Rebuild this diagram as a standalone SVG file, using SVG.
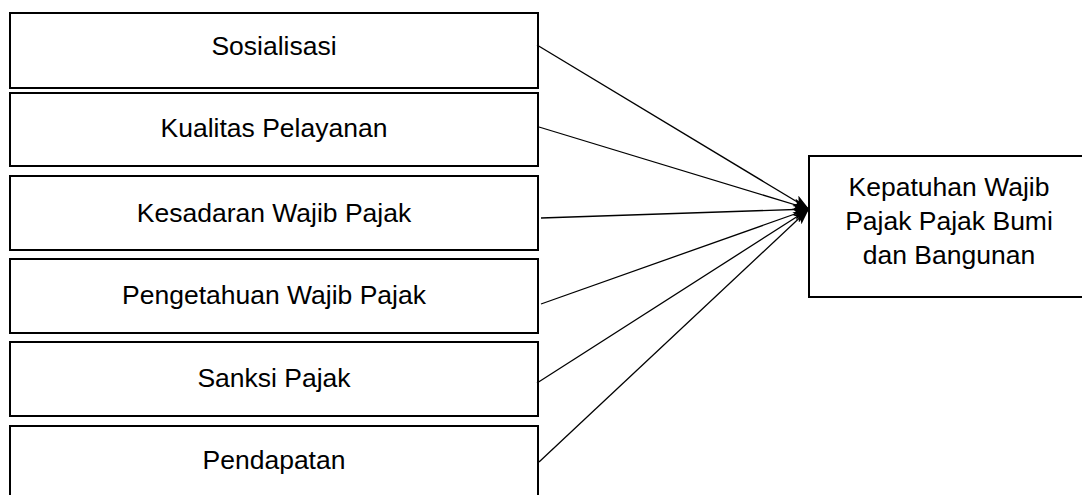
<svg xmlns="http://www.w3.org/2000/svg" width="1082" height="495" viewBox="0 0 1082 495">
<style>
.box{fill:#fff;stroke:#000;stroke-width:2}
.lbl{font-family:"Liberation Sans",Arial,sans-serif;font-size:26.5px;fill:#000;text-anchor:middle}
.con{stroke:#000;stroke-width:1.3;fill:none;marker-end:url(#ah)}
</style>
<defs>
<marker id="ah" markerUnits="userSpaceOnUse" viewBox="0 0 16 12" refX="16" refY="6" markerWidth="16" markerHeight="12" orient="auto">
<path d="M0,0 L16,6 L0,12 L4,6 z" fill="#000"/>
</marker>
</defs>
<rect width="1082" height="495" fill="#fff"/>
<g id="n1"><rect class="box" x="10" y="13" width="528" height="75"/><text class="lbl" x="274" y="55">Sosialisasi</text></g>
<g id="n2"><rect class="box" x="10" y="93" width="528" height="73"/><text class="lbl" x="274" y="137">Kualitas Pelayanan</text></g>
<g id="n3"><rect class="box" x="10" y="176" width="528" height="74"/><text class="lbl" x="274" y="222">Kesadaran Wajib Pajak</text></g>
<g id="n4"><rect class="box" x="10" y="259" width="528" height="74"/><text class="lbl" x="274" y="304">Pengetahuan Wajib Pajak</text></g>
<g id="n5"><rect class="box" x="10" y="342" width="528" height="74"/><text class="lbl" x="274" y="387">Sanksi Pajak</text></g>
<g id="n6"><rect class="box" x="10" y="426" width="528" height="80"/><text class="lbl" x="274" y="469">Pendapatan</text></g>
<g id="n7"><rect class="box" x="809" y="156" width="282" height="141"/>
<text class="lbl" x="949" y="196">Kepatuhan Wajib</text>
<text class="lbl" x="949" y="230">Pajak Pajak Bumi</text>
<text class="lbl" x="949" y="264">dan Bangunan</text></g>
<g id="connectors">
<line class="con" x1="537" y1="45" x2="809" y2="209"/>
<line class="con" x1="539" y1="127" x2="809" y2="209"/>
<line class="con" x1="541" y1="218" x2="809" y2="209"/>
<line class="con" x1="541" y1="304" x2="809" y2="209"/>
<line class="con" x1="537" y1="383" x2="809" y2="209"/>
<line class="con" x1="539" y1="462" x2="809" y2="209"/>
</g>
</svg>
